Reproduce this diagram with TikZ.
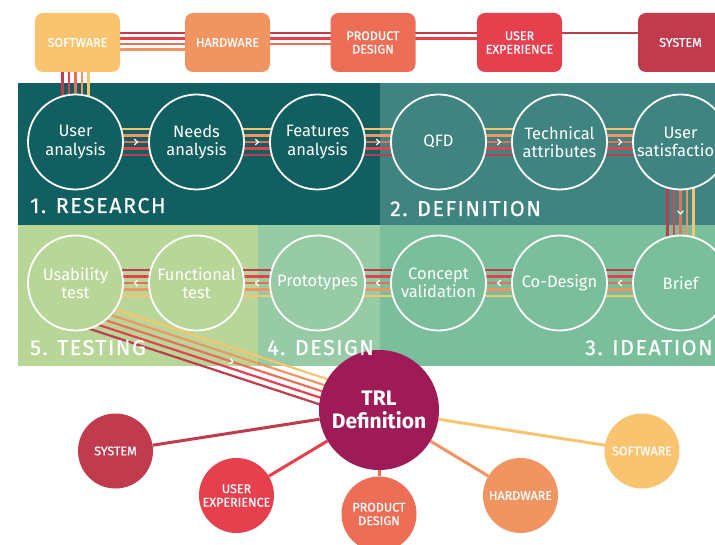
\documentclass[tikz,border=0pt]{standalone}
\usepackage{fontspec}
\setmainfont{Fira Sans}
\newfontfamily\medfont{Fira Sans}[FakeBold=0.6]
\usetikzlibrary{calc}

\definecolor{cSW}{HTML}{F9C46F}
\definecolor{cHW}{HTML}{F09562}
\definecolor{cPD}{HTML}{EC6E57}
\definecolor{cUX}{HTML}{E6404F}
\definecolor{cSYS}{HTML}{C13B4E}
\definecolor{cTRL}{HTML}{9E1B58}
\definecolor{cRes}{HTML}{115F60}
\definecolor{cDef}{HTML}{3F8481}
\definecolor{cTest}{HTML}{B9D699}
\definecolor{cDes}{HTML}{97CBA6}
\definecolor{cIdea}{HTML}{7BBE9B}

\pgfdeclarelayer{panels}
\pgfdeclarelayer{wires}
\pgfsetlayers{panels,wires,main}

\tikzset{
  topbox/.style={rectangle, rounded corners=8pt, minimum width=85pt, minimum height=59pt,
    inner sep=0pt, text=white, align=center, font=\medfont\fontsize{12.5}{13.5}\selectfont},
  stage/.style={circle, draw=white, line width=1.8pt, minimum size=95pt, inner sep=0pt,
    text=white, align=center, font=\fontsize{16.5}{18.5}\selectfont},
  sat/.style={circle, minimum size=75pt, inner sep=0pt, text=white, align=center,
    font=\medfont\fontsize{12.5}{13.5}\selectfont},
  phase/.style={text=white, inner sep=0pt,
    font=\medfont\fontsize{21.5}{21.5}\selectfont\addfontfeature{LetterSpace=7}},
  flow/.style={line width=2.2pt},
  spoke/.style={line width=3pt},
  chev/.pic={\draw[white, line width=1.3pt, line cap=round, line join=round]
    (-1.4,-2.6) -- (1.4,0) -- (-1.4,2.6);},
}

% five-colour bundle between two stages (horizontal / vertical)
\newcommand\hbundle[3]{%
  \foreach \k/\c in {-2/cSW,-1/cHW,0/cPD,1/cUX,2/cSYS}
    \draw[flow,\c] ($(#1)+(0,{(#3)*(\k)*6.5})$) -- ($(#2)+(0,{(#3)*(\k)*6.5})$);}
\newcommand\vbundle[2]{%
  \foreach \k/\c in {-2/cSW,-1/cHW,0/cPD,1/cUX,2/cSYS}
    \draw[flow,\c] ($(#1)+({-(\k)*6.5},0)$) -- ($(#2)+({-(\k)*6.5},0)$);}

\begin{document}
\begin{tikzpicture}[x=1pt,y=-1pt]
\useasboundingbox (0,0) rectangle (715,545);
\clip (0,0) rectangle (715,545);

% phase panels
\begin{pgfonlayer}{panels}
  \fill[white] (0,0) rectangle (715,545);
  \fill[cRes]  (18,83)   rectangle (380,225);
  \fill[cDef]  (380,83)  rectangle (716,225);
  \fill[cTest] (18,225)  rectangle (258,366);
  \fill[cDes]  (258,225) rectangle (380,366);
  \fill[cIdea] (380,225) rectangle (716,366);
\end{pgfonlayer}

% domain boxes
\node[topbox, fill=cSW]  (sw)  at (77.5,42.5)  {SOFTWARE};
\node[topbox, fill=cHW]  (hw)  at (227.5,42.5) {HARDWARE};
\node[topbox, fill=cPD]  (pd)  at (373,42.5)   {PRODUCT\\DESIGN};
\node[topbox, fill=cUX]  (ux)  at (519.5,42.5) {USER\\EXPERIENCE};
\node[topbox, fill=cSYS] (sys) at (680.5,42.5) {SYSTEM};

% stages, first row
\node[stage, fill=cRes] (ua)  at (75.5,142)  {User\\analysis};
\node[stage, fill=cRes] (na)  at (196.5,142) {Needs\\analysis};
\node[stage, fill=cRes] (fa)  at (317.5,142) {Features\\analysis};
\node[stage, fill=cDef] (qfd) at (438.5,142) {QFD};
\node[stage, fill=cDef] (ta)  at (559.5,142) {Technical\\attributes};
\node[stage, fill=cDef] (us)  at (680.5,142) {User\\satisfaction};

% stages, second row
\node[stage, fill=cTest] (ut) at (75.5,283)  {Usability\\test};
\node[stage, fill=cTest] (ft) at (196.5,283) {Functional\\test};
\node[stage, fill=cDes]  (pr) at (317.5,283) {Prototypes};
\node[stage, fill=cIdea] (cv) at (438.5,283) {Concept\\validation};
\node[stage, fill=cIdea] (cd) at (559.5,283) {Co-Design};
\node[stage, fill=cIdea] (br) at (680.5,283) {Brief};

% TRL hub and its domains
\node[circle, fill=cTRL, minimum size=120pt, inner sep=0pt, text=white, align=center,
  font=\fontsize{21}{23}\selectfont\bfseries] (trl) at (379,410) {TRL\\Definition};
\node[sat, fill=cSYS] (sysC) at (115.5,451) {SYSTEM};
\node[sat, fill=cUX]  (uxC)  at (236.5,495.5) {USER\\EXPERIENCE};
\node[sat, fill=cPD]  (pdC)  at (379,514) {PRODUCT\\DESIGN};
\node[sat, fill=cHW]  (hwC)  at (520.5,495.5) {HARDWARE};
\node[sat, fill=cSW]  (swC)  at (642,451) {SOFTWARE};

% phase titles
\node[phase, anchor=base west] (lres)  at (30,213)  {1. RESEARCH};
\node[phase, anchor=base west] (ldef)  at (390,216) {2. DEFINITION};
\node[phase, anchor=base west] (ltest) at (30,355)  {5. TESTING};
\node[phase, anchor=base west] (ldes)  at (267,355) {4. DESIGN};
\node[phase, anchor=base east] (lide)  at (713,355) {3. IDEATION};

\coordinate (swfoot) at (ua |- sw);
\coordinate (tap) at ($(ut)+(-10.5,23.9)$);

\begin{pgfonlayer}{wires}
  % links between domain boxes
  \foreach \dy/\c in {-9.5/cSYS,-4/cUX,1.5/cPD,7/cHW}
    \draw[flow,\c] ($(sw)+(0,\dy)$) -- ($(hw)+(0,\dy)$);
  \foreach \dy/\c in {-9.5/cSYS,-4/cUX,1.5/cPD}
    \draw[flow,\c] ($(hw)+(0,\dy)$) -- ($(pd)+(0,\dy)$);
  \foreach \dy/\c in {-9.5/cSYS,-4/cUX}
    \draw[flow,\c] ($(pd)+(0,\dy)$) -- ($(ux)+(0,\dy)$);
  \draw[flow,cSYS] ($(ux)+(0,-9.5)$) -- ($(sys)+(0,-9.5)$);

  % process flow
  \vbundle{swfoot}{ua}
  \hbundle{ua}{na}{1}
  \hbundle{na}{fa}{1}
  \hbundle{fa}{qfd}{1}
  \hbundle{qfd}{ta}{1}
  \hbundle{ta}{us}{1}
  \vbundle{us}{br}
  \hbundle{br}{cd}{-1}
  \hbundle{cd}{cv}{-1}
  \hbundle{cv}{pr}{-1}
  \hbundle{pr}{ft}{-1}
  \hbundle{ft}{ut}{-1}
  \foreach \k/\c in {-2/cSW,-1/cHW,0/cPD,1/cUX,2/cSYS}
    \draw[flow,\c] ($(tap)+({(\k)*-2.07},{(\k)*6.27})$) -- ($(trl)+({(\k)*-2.07},{(\k)*6.27})$);

  % direction marks
  \pic[rotate=-90] at ($(swfoot)!0.78!(ua)$) {chev};
  \pic at ($(ua)!0.5!(na)$) {chev};
  \pic at ($(na)!0.5!(fa)$) {chev};
  \pic at ($(fa)!0.5!(qfd)$) {chev};
  \pic at ($(qfd)!0.5!(ta)$) {chev};
  \pic at ($(ta)!0.5!(us)$) {chev};
  \pic[rotate=-90] at ($(us)!0.5!(br)$) {chev};
  \pic[rotate=180] at ($(br)!0.5!(cd)$) {chev};
  \pic[rotate=180] at ($(cd)!0.5!(cv)$) {chev};
  \pic[rotate=180] at ($(cv)!0.5!(pr)$) {chev};
  \pic[rotate=180] at ($(pr)!0.5!(ft)$) {chev};
  \pic[rotate=180] at ($(ft)!0.5!(ut)$) {chev};
  \pic[rotate=-18.3] at ($(tap)!0.53!(trl)$) {chev};

  % TRL spokes
  \draw[spoke,cSYS] (trl) -- (sysC);
  \draw[spoke,cUX]  (trl) -- (uxC);
  \draw[spoke,cPD]  (trl) -- (pdC);
  \draw[spoke,cHW]  (trl) -- (hwC);
  \draw[spoke,cSW]  (trl) -- (swC);
\end{pgfonlayer}
\end{tikzpicture}
\end{document}
